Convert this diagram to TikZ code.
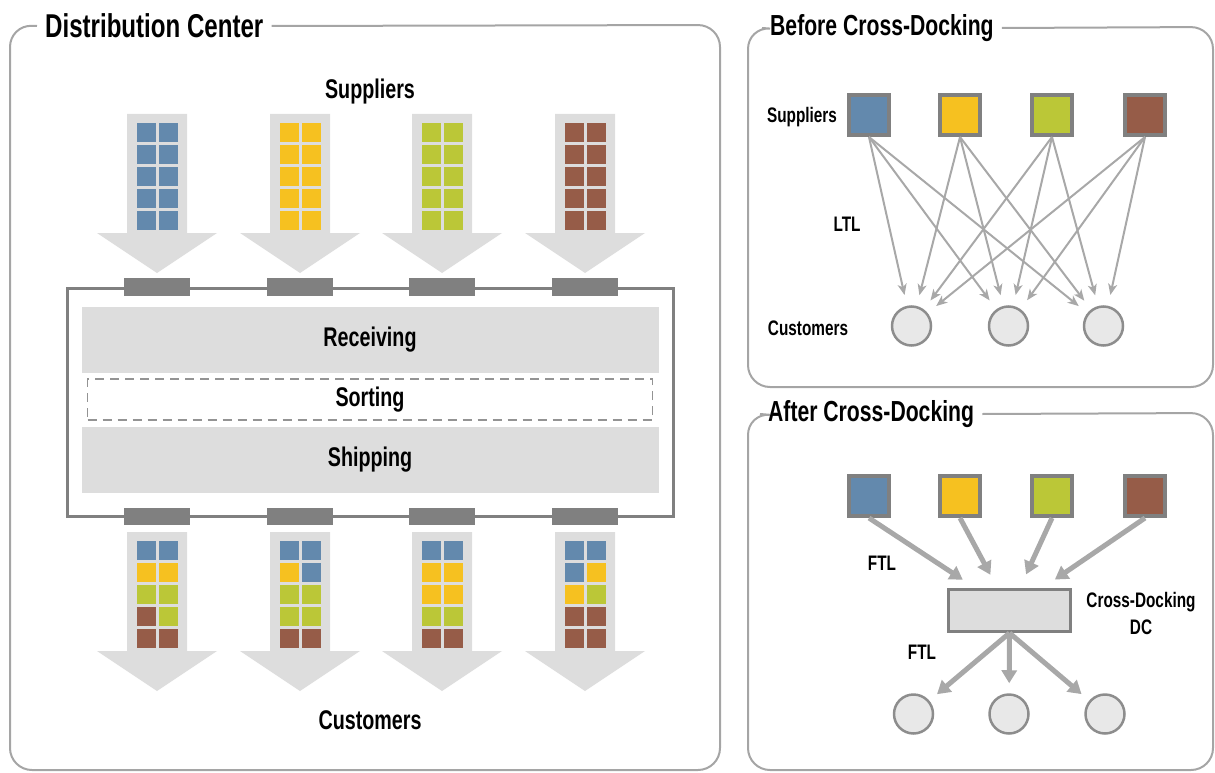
\documentclass[tikz,border=0pt]{standalone}
\usepackage{fontspec}
\setmainfont{Liberation Sans}[FakeStretch=0.73]
\usetikzlibrary{arrows.meta,positioning}

\definecolor{cb}{RGB}{99,137,173}
\definecolor{cy}{RGB}{246,193,32}
\definecolor{cg}{RGB}{187,199,55}
\definecolor{cr}{RGB}{150,92,72}
\definecolor{bandgray}{RGB}{221,221,221}
\definecolor{dockgray}{RGB}{128,128,128}
\definecolor{linegray}{RGB}{168,168,168}
\definecolor{framegray}{RGB}{165,165,165}
\definecolor{cusgray}{RGB}{232,232,232}

\tikzset{
  panel/.style={draw=framegray, line width=2pt, rounded corners=22pt},
  bigtitle/.style={font=\bfseries\fontsize{33}{33}\selectfont, inner sep=8pt},
  sidetitle/.style={font=\bfseries\fontsize{29}{29}\selectfont, inner sep=8pt},
  midlabel/.style={font=\bfseries\fontsize{27}{27}\selectfont, inner sep=0pt},
  smalllabel/.style={font=\bfseries\fontsize{21}{27}\selectfont, inner sep=0pt},
  band/.style={fill=bandgray, minimum width=577pt, minimum height=66pt, inner sep=0pt, midlabel},
  supbox/.style={draw=dockgray, line width=4pt, minimum size=40pt, inner sep=0pt},
  cusnode/.style={circle, draw=dockgray!90, fill=cusgray, line width=2.5pt, minimum size=39pt, inner sep=0pt},
  dcbox/.style={draw=dockgray, fill=bandgray, line width=3pt, minimum width=122pt, minimum height=42pt, inner sep=0pt},
  ltl/.style={draw=linegray, line width=2pt, -{Stealth[length=11pt,width=9pt,inset=3pt]}, shorten >=11pt},
  ftl/.style={draw=linegray, line width=5pt, -{Triangle[length=13pt,width=15pt]}}
}

% 2 x 5 crates: centre x, top y, colours row by row
\newcommand{\crategrid}[3]{%
  \foreach \c [count=\k from 0] in {#3} {
    \pgfmathtruncatemacro{\row}{\k/2}
    \pgfmathtruncatemacro{\col}{mod(\k,2)}
    \fill[\c] (#1-20.5+\col*22, #2+\row*22) rectangle +(19,19);
  }}

\begin{document}
\begin{tikzpicture}[x=1pt,y=-1pt]
\useasboundingbox (0,0) rectangle (1215,773);

% panels
\node[bigtitle, anchor=west] (dctitle) at (37,26) {Distribution Center};
\draw[panel] (dctitle.east) -- (720,25) -- (720,770) -- (10,770) -- (10,25) -- (dctitle.west);
\node[sidetitle, anchor=west] (beftitle) at (762,28) {Before Cross-Docking};
\draw[panel] (beftitle.east) -- (1213,27) -- (1213,387) -- (748,387) -- (748,27) -- (beftitle.west);
\node[sidetitle, anchor=west] (afttitle) at (760,414) {After Cross-Docking};
\draw[panel] (afttitle.east) -- (1213,413) -- (1213,770) -- (748,770) -- (748,413) -- (afttitle.west);

% distribution center
\node[midlabel] (suplabel) at (370,92) {Suppliers};
\node[midlabel] (cuslabel) at (370,720) {Customers};

\foreach \x in {157,300,442,585} {
  \fill[bandgray] (\x-30,114) -- (\x+30,114) -- (\x+30,233) -- (\x+60,233) -- (\x,273) -- (\x-60,233) -- (\x-30,233) -- cycle;
  \fill[bandgray] (\x-30,532) -- (\x+30,532) -- (\x+30,651) -- (\x+60,651) -- (\x,691) -- (\x-60,651) -- (\x-30,651) -- cycle;
}
\crategrid{157}{123}{cb,cb,cb,cb,cb,cb,cb,cb,cb,cb}
\crategrid{300}{123}{cy,cy,cy,cy,cy,cy,cy,cy,cy,cy}
\crategrid{442}{123}{cg,cg,cg,cg,cg,cg,cg,cg,cg,cg}
\crategrid{585}{123}{cr,cr,cr,cr,cr,cr,cr,cr,cr,cr}
\crategrid{157}{541}{cb,cb,cy,cy,cg,cg,cr,cg,cr,cr}
\crategrid{300}{541}{cb,cb,cy,cb,cg,cg,cg,cg,cr,cr}
\crategrid{442}{541}{cb,cb,cy,cy,cy,cy,cg,cg,cr,cr}
\crategrid{585}{541}{cb,cb,cb,cy,cy,cg,cr,cr,cr,cr}

\draw[dockgray, line width=3pt] (67,288) rectangle (673,516);
\foreach \x in {157,300,442,585} {
  \fill[dockgray] (\x-33,278) rectangle (\x+33,296);
  \fill[dockgray] (\x-33,508) rectangle (\x+33,525);
}
\node[band] (recv) at (370,340) {Receiving};
\node[band, fill=none, draw=dockgray!85, line width=1.8pt, dash pattern=on 9pt off 6pt,
  minimum width=565pt, minimum height=41pt] (sort) at (370,399.5) {Sorting};
\node[band] (ship) at (370,460) {Shipping};

% before cross-docking
\node[supbox, fill=cb] (bs1) at (869,115) {};
\node[supbox, fill=cy] (bs2) at (960,115) {};
\node[supbox, fill=cg] (bs3) at (1052,115) {};
\node[supbox, fill=cr] (bs4) at (1145,115) {};
\node[cusnode] (bc1) at (911.5,326) {};
\node[cusnode] (bc2) at (1008.5,326) {};
\node[cusnode] (bc3) at (1103.5,326) {};
\node[smalllabel] (bsuplabel) at (802,117) {Suppliers};
\node[smalllabel] (bcuslabel) at (808,328) {Customers};
\node[smalllabel] (ltllabel) at (847,224) {LTL};
\foreach \s in {1,...,4}
  \foreach \c in {1,2,3}
    \draw[ltl] (bs\s.south) -- (bc\c);

% after cross-docking
\node[supbox, fill=cb] (as1) at (869,496) {};
\node[supbox, fill=cy] (as2) at (960,496) {};
\node[supbox, fill=cg] (as3) at (1052,496) {};
\node[supbox, fill=cr] (as4) at (1145,496) {};
\node[dcbox] (dc) at (1009.5,610.5) {};
\node[smalllabel, align=center] (dclabel) at (1141,613) {Cross-Docking\\DC};
\node[cusnode] (ac1) at (913.5,714) {};
\node[cusnode] (ac2) at (1009,714) {};
\node[cusnode] (ac3) at (1105,714) {};
\node[smalllabel] (ftlin) at (882,563) {FTL};
\node[smalllabel] (ftlout) at (922,652) {FTL};
\foreach \s in {1,...,4}
  \draw[ftl, shorten >=15pt] (as\s.south) -- (dc);
\foreach \c in {1,2,3}
  \draw[ftl, shorten >=10pt] (dc.south) -- (ac\c);
\end{tikzpicture}
\end{document}
